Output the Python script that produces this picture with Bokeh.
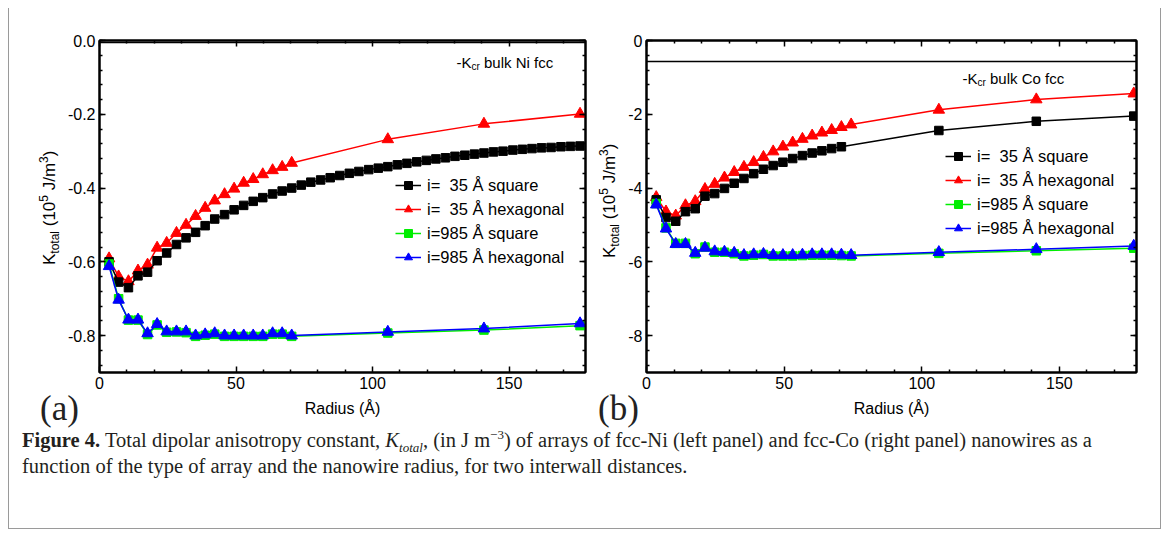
import math
from bokeh.plotting import figure
from bokeh.models import FixedTicker, LinearAxis, Range1d, Span, Label, Legend, LegendItem, Div
from bokeh.layouts import row, column
from bokeh.embed import file_html
from bokeh.resources import INLINE

# ---------------- data: panel (a) fcc-Ni ----------------
ni_radius = [3.5, 7.0, 10.6, 14.1, 17.6, 21.1, 24.6, 28.2, 31.7, 35.2,
             38.7, 42.2, 45.8, 49.3, 52.8, 56.3, 59.8, 63.4, 66.9, 70.4,
             105.6, 140.8, 176.0]
ni_radius_full = [3.5, 7.0, 10.6, 14.1, 17.6, 21.1, 24.6, 28.2, 31.7, 35.2,
                  38.7, 42.2, 45.8, 49.3, 52.8, 56.3, 59.8, 63.4, 66.9, 70.4,
                  73.9, 77.4, 81.0, 84.5, 88.0, 91.5, 95.0, 98.6, 102.1, 105.6,
                  109.1, 112.6, 116.2, 119.7, 123.2, 126.7, 130.2, 133.8, 137.3, 140.8,
                  144.3, 147.8, 151.4, 154.9, 158.4, 161.9, 165.4, 169.0, 172.5, 176.0]
ni_sq35 = [-0.600, -0.655, -0.670, -0.638, -0.628, -0.597, -0.576, -0.553, -0.535, -0.520,
           -0.502, -0.484, -0.472, -0.459, -0.447, -0.436, -0.426, -0.416, -0.408, -0.400,
           -0.392, -0.384, -0.378, -0.372, -0.366, -0.360, -0.355, -0.350, -0.346, -0.342,
           -0.337, -0.333, -0.329, -0.325, -0.321, -0.318, -0.314, -0.311, -0.308, -0.305,
           -0.302, -0.300, -0.297, -0.295, -0.293, -0.291, -0.290, -0.288, -0.287, -0.286]
ni_hex35 = [-0.591, -0.640, -0.653, -0.624, -0.608, -0.562, -0.549, -0.522, -0.500, -0.476,
            -0.454, -0.434, -0.417, -0.402, -0.386, -0.376, -0.363, -0.352, -0.343, -0.332,
            -0.268, -0.226, -0.199]
ni_sq985 = [-0.606, -0.700, -0.758, -0.758, -0.797, -0.771, -0.791, -0.790, -0.792, -0.802,
            -0.799, -0.796, -0.802, -0.802, -0.802, -0.802, -0.802, -0.796, -0.796, -0.802,
            -0.793, -0.785, -0.773]
ni_hex985 = [-0.612, -0.703, -0.757, -0.757, -0.794, -0.769, -0.789, -0.789, -0.789, -0.800,
             -0.797, -0.794, -0.800, -0.800, -0.800, -0.800, -0.800, -0.794, -0.794, -0.800,
             -0.790, -0.781, -0.767]
ni_kcr = -0.0057

# ---------------- data: panel (b) fcc-Co ----------------
co_radius = [3.54, 7.08, 10.62, 14.16, 17.70, 21.24, 24.78, 28.32, 31.86, 35.40,
             38.94, 42.48, 46.02, 49.56, 53.10, 56.64, 60.18, 63.72, 67.26, 70.80,
             106.2, 141.6, 177.0]
co_radius_ext = [3.54, 7.08, 10.62, 14.16, 17.70, 21.24, 24.78, 28.32, 31.86, 35.40,
                 38.94, 42.48, 46.02, 49.56, 53.10, 56.64, 60.18, 63.72, 67.26, 70.80,
                 74.34, 106.2, 141.6, 177.0]
co_sq35 = [-4.32, -4.80, -4.90, -4.64, -4.56, -4.22, -4.15, -4.01, -3.87, -3.74,
           -3.61, -3.49, -3.39, -3.30, -3.20, -3.12, -3.05, -2.99, -2.93, -2.88,
           -2.44, -2.19, -2.05]
co_hex35 = [-4.25, -4.64, -4.75, -4.47, -4.36, -4.03, -3.89, -3.72, -3.57, -3.43,
            -3.30, -3.16, -3.01, -2.88, -2.77, -2.67, -2.58, -2.50, -2.43, -2.35,
            -2.28, -1.88, -1.60, -1.44]
co_sq985 = [-4.42, -5.08, -5.50, -5.50, -5.78, -5.60, -5.74, -5.74, -5.78, -5.84,
            -5.82, -5.80, -5.84, -5.84, -5.84, -5.83, -5.82, -5.82, -5.82, -5.83,
            -5.84, -5.77, -5.70, -5.63]
co_hex985 = [-4.45, -5.10, -5.52, -5.52, -5.76, -5.62, -5.72, -5.73, -5.76, -5.82,
             -5.80, -5.79, -5.82, -5.82, -5.82, -5.81, -5.80, -5.80, -5.80, -5.81,
             -5.82, -5.74, -5.66, -5.57]
co_kcr = -0.57

# ---------------- labels / ticks ----------------
series_labels = ["i=\u00a0\u00a035 \u00c5 square", "i=\u00a0\u00a035 \u00c5 hexagonal",
                 "i=985 \u00c5 square", "i=985 \u00c5 hexagonal"]
series_colors = ["black", "#ff0000", "#00ee00", "#0000ff"]
x_ticks = [0, 50, 100, 150]
x_tick_labels = ["0", "50", "100", "150"]
x_minor = [10, 20, 30, 40, 60, 70, 80, 90, 110, 120, 130, 140, 160, 170]
ni_y_ticks = [0.0, -0.2, -0.4, -0.6, -0.8]
ni_y_labels = ["0.0", "-0.2", "-0.4", "-0.6", "-0.8"]
co_y_ticks = [0, -2, -4, -6, -8]
co_y_labels = ["0", "-2", "-4", "-6", "-8"]
x_label = "Radius (\u00c5)"
y_label_html = ("K<span style='font-size:12px;vertical-align:-4px;line-height:0'>total</span> "
                "(10<span style='font-size:12px;vertical-align:7px;line-height:0'>5</span> "
                "J/m<span style='font-size:12px;vertical-align:7px;line-height:0'>3</span>)")
panel_tags = ["(a)", "(b)"]
caption_html = (
    "<b>Figure 4.</b> Total dipolar anisotropy constant, <i>K<sub style='font-size:13px;line-height:0'>total</sub></i>, "
    "(in J m<sup style='font-size:13px;line-height:0'>\u22123</sup>) of arrays of fcc-Ni (left panel) and fcc-Co "
    "(right panel) nanowires as a<br>function of the type of array and the nanowire radius, for two interwall distances."
)

SANS = "Liberation Sans"

ARIAL_W = {" ": 278, "(": 333, ")": 333, "-": 333, "/": 278, "C": 722, "J": 500, "K": 667,
           "N": 722, "a": 556, "b": 556, "c": 500, "f": 278, "i": 222, "k": 500, "l": 222,
           "m": 833, "o": 556, "r": 333, "t": 278, "u": 556}


def text_w(s, px):
    return sum(ARIAL_W.get(c, 556) for c in s) / 1000.0 * px


def minor_list(start, stop, step):
    out = []
    v = start
    while v >= stop - 1e-9:
        out.append(round(v, 6))
        v -= step
    return out


def make_panel(width, mb_left, mb_right, y_range, y_ticks, y_labels, y_minor):
    p = figure(width=width, height=425, x_range=Range1d(0, 178), y_range=Range1d(*y_range),
               output_backend="svg", toolbar_location=None,
               min_border_left=mb_left, min_border_right=mb_right,
               min_border_top=32, min_border_bottom=61)
    p.grid.visible = False
    p.background_fill_color = "white"
    p.border_fill_color = "white"
    p.outline_line_color = "black"
    p.outline_line_width = 2
    xt = FixedTicker(ticks=x_ticks, minor_ticks=x_minor)
    yt = FixedTicker(ticks=y_ticks, minor_ticks=y_minor)
    p.add_layout(LinearAxis(), "above")
    p.add_layout(LinearAxis(), "right")
    for ax in p.xaxis:
        ax.ticker = xt
    for ax in p.yaxis:
        ax.ticker = yt
    for ax in p.axis:
        ax.axis_line_color = "black"
        ax.axis_line_width = 2
        ax.major_tick_in = 6
        ax.major_tick_out = 0
        ax.minor_tick_in = 3
        ax.minor_tick_out = 0
        ax.major_tick_line_color = "black"
        ax.major_tick_line_width = 1.5
        ax.minor_tick_line_color = "black"
        ax.minor_tick_line_width = 1.5
        ax.major_label_text_font = SANS
        ax.major_label_text_font_size = "16px"
        ax.major_label_text_color = "black"
    p.below[0].major_label_overrides = {t: l for t, l in zip(x_ticks, x_tick_labels)}
    p.below[0].major_label_standoff = 4
    p.below[0].axis_label = x_label
    p.below[0].axis_label_text_font = SANS
    p.below[0].axis_label_text_font_size = "16px"
    p.below[0].axis_label_text_font_style = "normal"
    p.below[0].axis_label_text_color = "black"
    p.below[0].axis_label_standoff = 8
    p.left[0].major_label_overrides = {t: l for t, l in zip(y_ticks, y_labels)}
    p.left[0].major_label_standoff = 4
    p.above[0].major_label_overrides = {t: "" for t in x_ticks}
    p.above[0].major_label_standoff = 0
    p.right[0].major_label_overrides = {t: "" for t in y_ticks}
    p.right[0].major_label_standoff = 0
    return p


def to_data(p, geom, px, py):
    fl, ft, fw, fh = geom
    xr, yr = p.x_range, p.y_range
    x = xr.start + (px - fl) / fw * (xr.end - xr.start)
    y = yr.end - (py - ft) / fh * (yr.end - yr.start)
    return x, y


def rich_text(p, geom, px, py, pieces, color="black"):
    x, y = to_data(p, geom, px, py)
    adv = 0.0
    for txt, size, shift in pieces:
        core = txt.strip(" ")
        lead = len(txt) - len(txt.lstrip(" "))
        trail = len(txt) - len(txt.rstrip(" "))
        adv += text_w(" " * lead, size)
        p.add_layout(Label(x=x, y=y, text=core, x_offset=adv, y_offset=shift,
                           text_font=SANS, text_font_size=f"{size}px", text_color=color,
                           text_align="left", text_baseline="alphabetic"))
        adv += text_w(core, size) + text_w(" " * trail, size)


def add_series(p, xs_list, ys_list, loc):
    markers = ["square", "triangle", "square", "triangle"]
    sizes = [8.5, 11.5, 8.5, 11.5]
    rends = {}
    for idx in [1, 0, 2, 3]:
        xs, ys = xs_list[idx], ys_list[idx]
        c = series_colors[idx]
        lr = p.line(xs, ys, line_color=c, line_width=1.5)
        sr = p.scatter(xs, ys, marker=markers[idx], size=sizes[idx], fill_color=c, line_color=c)
        rends[idx] = [lr, sr]
    items = [LegendItem(label=series_labels[i], renderers=rends[i]) for i in range(4)]
    leg = Legend(items=items, location=loc, border_line_alpha=0, background_fill_alpha=0,
                 padding=0, margin=0, spacing=4, label_height=20, glyph_height=20,
                 glyph_width=26, label_standoff=6, label_text_font=SANS,
                 label_text_font_size="16.5px", label_text_color="black")
    p.add_layout(leg)


# ---------------- panel (a) ----------------
p1 = make_panel(590, 90, 14, (-0.9, 0.0), ni_y_ticks, ni_y_labels, minor_list(0.0, -0.9, 0.04))
g1 = (99, 40, 486, 332)
p1.add_layout(Span(location=ni_kcr, dimension="width", line_color="black", line_width=1.5))
add_series(p1, [ni_radius_full, ni_radius, ni_radius, ni_radius],
           [ni_sq35, ni_hex35, ni_sq985, ni_hex985], (296, 105))

# ---------------- panel (b) ----------------
p2 = make_panel(561, 47, 24, (-9, 0), co_y_ticks, co_y_labels, minor_list(0, -9, 0.4))
g2 = (646, 40, 490, 332)
p2.add_layout(Span(location=co_kcr, dimension="width", line_color="black", line_width=1.5))
add_series(p2, [co_radius, co_radius_ext, co_radius_ext, co_radius_ext],
           [co_sq35, co_hex35, co_sq985, co_hex985], (299, 134))

rich_text(p1, g1, 456, 62, [("-K", 15, 0), ("cr", 10, -4), (" bulk Ni fcc", 15, 0)])
rich_text(p2, g2, 962, 78, [("-K", 15, 0), ("cr", 10, -4), (" bulk Co fcc", 15, 0)])

# ---------------- overlay texts + caption (HTML, positioned over the canvases) ----------------
ylab_style = ("position:absolute; transform:rotate(-90deg); transform-origin:0 0; white-space:nowrap; "
              "font-family:'Liberation Sans'; font-size:17px; line-height:20px; color:black;")
tag_style = ("position:absolute; white-space:nowrap; font-family:'Liberation Serif'; font-size:35px; "
             "line-height:35px; color:#222;")
cap_style = ("position:absolute; left:13px; top:-6px; font-family:'Liberation Serif'; "
             "font-size:20.5px; line-height:26px; color:#231f20; white-space:nowrap;")
overlay = (
    f'<div style="{ylab_style} left:31px; top:-168px;">{y_label_html}</div>'
    f'<div style="{ylab_style} left:591px; top:-175px;">{y_label_html}</div>'
    f'<div style="{tag_style} left:31px; top:-42px;">{panel_tags[0]}</div>'
    f'<div style="{tag_style} left:589px; top:-42px;">{panel_tags[1]}</div>'
)
cap = Div(text=('<div style="position:relative; width:1151px; height:95px; overflow:visible;">' + overlay +
                f'<div style="{cap_style}">' + caption_html + '</div></div>'),
          width=1151, height=95, margin=(0, 0, 0, 0), styles={"overflow": "visible", "z-index": "5"})

layout = column(row(p1, p2), cap, margin=(8, 0, 0, 8),
                styles={"border-left": "1px solid #9a9a9a", "border-right": "1px solid #9a9a9a",
                        "border-bottom": "1px solid #9a9a9a"})

open("out.html", "w").write(file_html(layout, INLINE))
